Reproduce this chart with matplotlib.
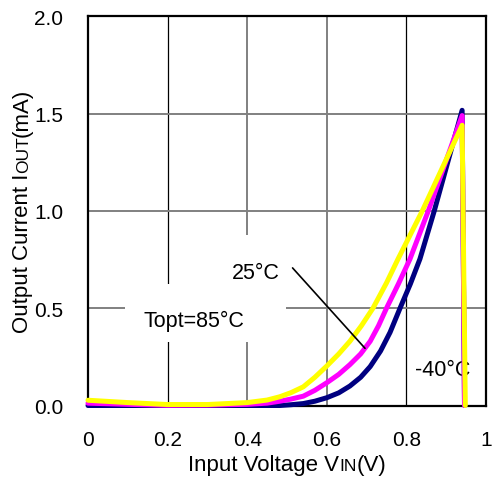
import matplotlib
matplotlib.use("Agg")
import matplotlib.pyplot as plt
from matplotlib.patches import Rectangle

plt.rcParams['font.family'] = ['Liberation Sans', 'DejaVu Sans']

# curve data (V, mA)
x_m40 = [0, 0.1, 0.2, 0.3, 0.4, 0.45, 0.482, 0.51, 0.541, 0.57, 0.6, 0.63, 0.658,
         0.685, 0.709, 0.735, 0.759, 0.784, 0.81, 0.834, 0.87, 0.94, 0.946]
y_m40 = [0, 0, 0, 0, 0, 0, 0.0, 0.004, 0.01, 0.022, 0.04, 0.065, 0.10,
         0.145, 0.20, 0.28, 0.376, 0.50, 0.625, 0.753, 1.0, 1.517, 0]

x_25 = [0, 0.1, 0.2, 0.3, 0.4, 0.45, 0.482, 0.51, 0.541, 0.57, 0.6, 0.63, 0.658,
        0.685, 0.709, 0.73, 0.75, 0.78, 0.809, 0.855, 0.94, 0.946]
y_25 = [0.012, 0.006, 0.001, 0.002, 0.006, 0.012, 0.022, 0.033, 0.048, 0.078, 0.117, 0.16, 0.21,
        0.265, 0.33, 0.41, 0.50, 0.625, 0.753, 1.0, 1.49, 0]

x_85 = [0, 0.1, 0.2, 0.3, 0.4, 0.45, 0.482, 0.51, 0.541, 0.57, 0.6, 0.63, 0.658,
        0.687, 0.716, 0.75, 0.779, 0.84, 0.94, 0.948]
y_85 = [0.027, 0.015, 0.005, 0.005, 0.015, 0.028, 0.045, 0.066, 0.096, 0.145, 0.203, 0.265, 0.33,
        0.41, 0.50, 0.63, 0.753, 1.0, 1.44, 0]

xticks = [0, 0.2, 0.4, 0.6, 0.8, 1.0]
xticklabels = ['0', '0.2', '0.4', '0.6', '0.8', '1']
yticks = [0, 0.5, 1.0, 1.5, 2.0]
yticklabels = ['0.0', '0.5', '1.0', '1.5', '2.0']

W, H = 492, 481
fig = plt.figure(figsize=(W / 100, H / 100), dpi=100)
ax = fig.add_axes([88 / W, (H - 406.5) / H, 398 / W, (406.5 - 17.3) / H])

ax.set_xlim(0, 1)
ax.set_ylim(0, 2)
ax.set_xticks(xticks, xticklabels)
ax.set_yticks(yticks, yticklabels)
ax.tick_params(length=0, labelsize=15)
ax.tick_params(axis='y', pad=18)
ax.tick_params(axis='x', pad=18)

ax.set_axisbelow(True)
ax.grid(True, color='#808080', lw=1.4)
for i, gl in enumerate(ax.get_xgridlines()):
    if i in (1, 4):
        gl.set_color('black')
        gl.set_linewidth(0.9)

for s in ax.spines.values():
    s.set_linewidth(1.6)

# white boxes behind the labels
ax.add_patch(Rectangle((0.093, 0.326), 0.404, 0.298, transform=ax.transData,
                       facecolor='white', edgecolor='none', zorder=1))
ax.add_patch(Rectangle((0.281, 0.547), 0.216, 0.33, transform=ax.transData,
                       facecolor='white', edgecolor='none', zorder=1))

lw = 3.6
kw = dict(lw=lw, solid_capstyle='round', solid_joinstyle='round', clip_on=False)
ax.plot(x_m40, y_m40, color='#000080', zorder=3, **kw)
ax.plot(x_25, y_25, color='#FF00FF', zorder=4, **kw)
ax.plot(x_85, y_85, color='#FFFF00', zorder=5, **kw)

fs = 15.5
ax.text(0.421, 0.654, '25\u00b0C', fontsize=fs, ha='center', va='baseline', zorder=6)
ax.text(0.265, 0.407, 'Topt=85\u00b0C', fontsize=fs, ha='center', va='baseline', zorder=6)
ax.text(0.892, 0.157, '-40\u00b0C', fontsize=fs, ha='center', va='baseline', zorder=2)
ax.annotate('', xy=(0.696, 0.294), xytext=(0.514, 0.707),
            arrowprops=dict(arrowstyle='-', lw=1.2, color='black',
                            shrinkA=0, shrinkB=0), zorder=6)

# axis labels with small-caps style subscripts
renderer = fig.canvas.get_renderer()


def width_of(s, size):
    t = fig.text(0, 0, s, fontsize=size)
    w = t.get_window_extent(renderer).width
    t.remove()
    return w


def rich(pieces, cx, cy, rotation):
    total = sum(width_of(s, sz) for s, sz in pieces)
    pos = -total / 2
    for s, sz in pieces:
        if rotation == 0:
            px, py = cx + pos, cy
        else:
            px, py = cx, cy + pos
        fig.text(px / W, py / H, s, fontsize=sz, rotation=rotation,
                 rotation_mode='anchor', ha='left', va='baseline')
        pos += width_of(s, sz)


rich([('Input Voltage V', 16), ('IN', 12.5), ('(V)', 16)], 287.5, H - 470.7, 0)
rich([('Output Current I', 16), ('OUT', 12.5), ('(mA)', 16)], 28, H - 210.5, 90)

fig.savefig('out.png', dpi=100)
